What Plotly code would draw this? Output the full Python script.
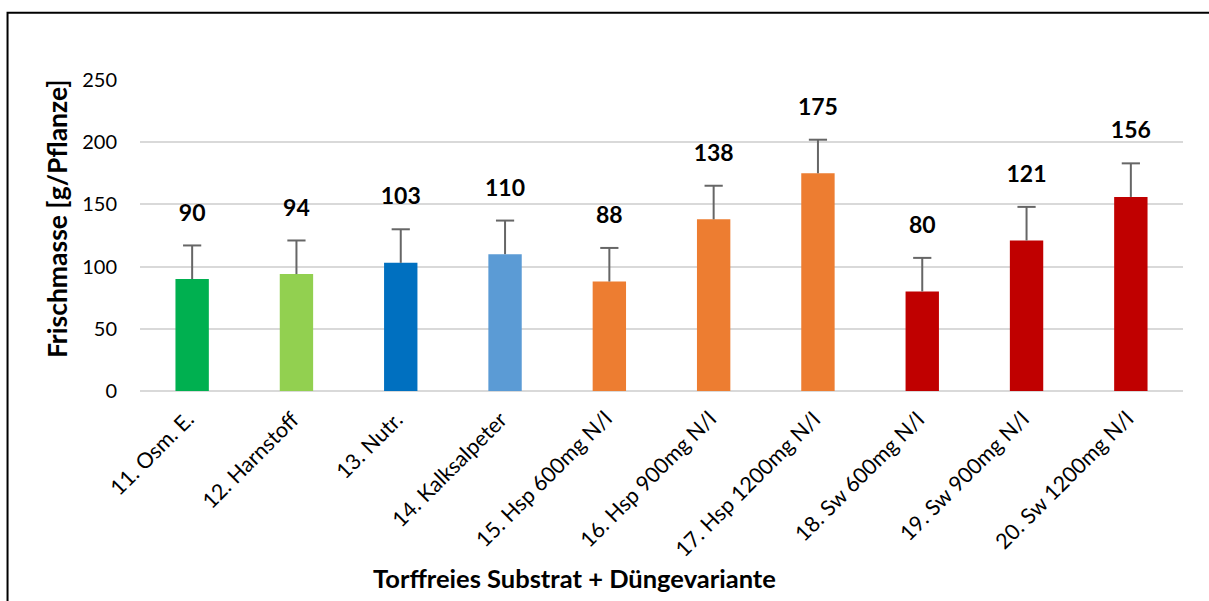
import plotly.graph_objects as go

# Data
categories = ["11. Osm. E.", "12. Harnstoff", "13. Nutr.", "14. Kalksalpeter",
              "15. Hsp 600mg N/l", "16. Hsp 900mg N/l", "17. Hsp 1200mg N/l",
              "18. Sw 600mg N/l", "19. Sw 900mg N/l", "20. Sw 1200mg N/l"]
values = [90, 94, 103, 110, 88, 138, 175, 80, 121, 156]
errors = [27, 27, 27, 27, 27, 27, 27, 27, 27, 27]
colors = ["#00B050", "#92D050", "#0070C0", "#5B9BD5",
          "#ED7D31", "#ED7D31", "#ED7D31",
          "#C00000", "#C00000", "#C00000"]

FONT = "Lato"
ERR_COLOR = "#666666"

fig = go.Figure()
fig.add_trace(go.Bar(
    x=categories,
    y=values,
    marker=dict(color=colors, line=dict(width=0)),
    width=0.32,
    hoverinfo="x+y",
))

# upper error bars only (whisker line + cap at the top)
ex, ey = [], []
for c, v, e in zip(categories, values, errors):
    ex += [c, c, None]
    ey += [v, v + e, None]
tops = [v + e for v, e in zip(values, errors)]
fig.add_trace(go.Scatter(x=ex, y=ey, mode="lines",
                         line=dict(color=ERR_COLOR, width=2), hoverinfo="skip"))
fig.add_trace(go.Scatter(
    x=categories, y=tops, mode="markers",
    marker=dict(symbol="line-ew-open", size=13, color=ERR_COLOR,
                line=dict(color=ERR_COLOR, width=2)),
    hoverinfo="skip",
))
# value labels above the error bars (invisible marker sets the gap)
fig.add_trace(go.Scatter(
    x=categories, y=tops, mode="markers+text",
    marker=dict(size=29, opacity=0),
    text=[f"<b>{v}</b>" for v in values],
    textposition="top center",
    textfont=dict(size=23, color="black", family=FONT),
    hoverinfo="skip",
))

# rotated category labels (top-right corner at the category, Excel style)
for c in categories:
    fig.add_annotation(x=c, y=0, text=c, showarrow=False, textangle=-45,
                       xanchor="right", yanchor="top", xshift=10, yshift=-12,
                       font=dict(size=21.5, color="black", family=FONT))

# outer frame
fig.add_shape(type="rect", xref="paper", yref="paper",
              x0=-0.127, x1=1.03, y0=-0.7, y1=1.216,
              line=dict(color="black", width=2), fillcolor="rgba(0,0,0,0)")

fig.add_annotation(xref="paper", yref="paper", x=0.417, y=-0.601,
                   xanchor="center", yanchor="middle",
                   text="<b>Torffreies Substrat + Düngevariante</b>", showarrow=False,
                   font=dict(size=25.5, color="black", family=FONT))
fig.add_annotation(xref="paper", yref="paper", x=-0.0796, y=0.556, textangle=-90,
                   xanchor="center", yanchor="middle",
                   text="<b>Frischmasse [g/Pflanze]</b>", showarrow=False,
                   font=dict(size=26.5, color="black", family=FONT))

fig.update_layout(
    width=1209, height=601,
    margin=dict(l=140, r=26, t=80, b=210),
    paper_bgcolor="white", plot_bgcolor="white",
    showlegend=False,
    font=dict(family=FONT, color="black"),
)
fig.update_xaxes(range=[-0.5, len(categories) - 0.5], autorange=False,
                 showticklabels=False, showline=False, ticks="", showgrid=False)
fig.update_yaxes(range=[0, 250], dtick=50, tickfont=dict(size=20, color="black"),
                 showgrid=True, gridcolor="#D9D9D9", gridwidth=1.5,
                 zeroline=True, zerolinecolor="#D9D9D9", zerolinewidth=1.5,
                 ticks="", ticklabelstandoff=22)

fig.write_html("out.html", config={"displayModeBar": False},
               post_script="document.body.style.margin='0';document.body.style.overflow='hidden';")
